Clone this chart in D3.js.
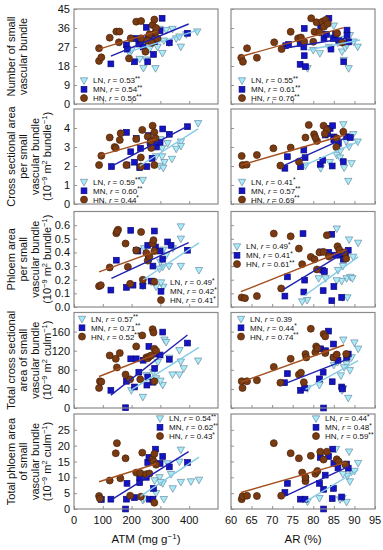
<!DOCTYPE html>
<html>
<head>
<meta charset="utf-8">
<script src="https://cdn.jsdelivr.net/npm/d3@7"></script>
<style>
body { margin:0; background:#fff; }
svg text { font-family: Arial, "Liberation Sans", sans-serif; fill:#111; }
</style>
</head>
<body>
<svg id="chart" width="383" height="550"></svg>
<script>
// series order everywhere: LN, MN, HN
var groups = ["LN", "MN", "HN"];

// ---- row 1 : number of small vascular bundle ----
var numAtmLN = [[193,24],[200,25.5],[228,21.3],[241,17],[250,21],[262,26],[273,28.7],[283,16.9],[290,27],[297,35.5],[307,24.1],[312,30],[320,35],[330,29],[342,35.5],[355,31],[366,31.9],[371,27.1],[390,33],[428,34.3]];
var numAtmMN = [[128,19],[182,28],[185,26],[210,20],[214,31],[225,28.4],[233,30],[240,27],[251,36.3],[256,20],[257,31.5],[263,30],[270,33],[276,23.5],[280,29.6],[299,34.7],[306,40.6],[331,29],[394,33.5]];
var numAtmHN = [[87,26.4],[87,20.4],[95,22.1],[124,31.4],[147,34.3],[158,34.3],[156,29.2],[191,21.6],[197,31.1],[216,39],[233,31.1],[233,39.3],[248,24.8],[255,30],[262,33],[270,29],[273,37.4],[279,40],[283,34],[285,36],[290,31]];
var numArLN = [[85,37.1],[81.6,24],[78.6,16.9],[87,24.8],[87.4,20.8],[88.6,16.9],[87.8,26.7],[88.9,32.6],[89.8,29.5],[90.8,27.1],[87.6,30.8],[86,29],[84.5,31.5],[88.2,28],[83.8,27],[80,25.5]];
var numArMN = [[73.3,27.6],[74,28.2],[76.8,28.7],[77.8,35.8],[77.7,27],[77.8,22.9],[76.8,18.8],[78.1,17.7],[81.8,36.6],[82.6,31.1],[83.2,33],[83.8,40.6],[84.3,26],[84.9,31],[85.4,33],[86.2,30],[88.2,35],[88.2,32.6],[87.4,20],[88.6,29.4]];
var numArHN = [[62.5,21.9],[62.9,20],[63.9,26.4],[66.3,21.9],[70.5,29.2],[72.3,26],[74.5,34.2],[76.3,31.1],[77,31.5],[77.8,29.5],[79.5,40.6],[80.3,34.2],[80.8,38.7],[81.5,34],[82.2,39],[82.6,36.6],[83,39.8],[83.5,38],[85.8,33.5],[87,29.1],[80,29.5]];
var numAtmFit = [[193,24.8,430,35],[128,22.7,398,37.9],[87,26,290,34.5]];
var numArFit = [[78.6,25.6,91.4,30.3],[72.8,26.4,88.8,31.4],[62.3,22.4,87.4,36.2]];
var numAtmR = ["0.53**","0.54**","0.56**"];
var numArR = ["0.55**","0.61**","0.76**"];

// ---- row 2 : cross sectional area per small vascular bundle ----
var csaAtmLN = [[239,1.26],[297,2.0],[306,2.93],[306,2.5],[314,2.2],[340,2.37],[371,3.28],[371,3.05],[431,4.25],[310,1.9],[285,2.5],[262,3.1],[325,3.2],[355,2.9],[300,3.4]];
var csaAtmMN = [[130,1.97],[182,3.77],[184,2.05],[197,2.75],[210,2.2],[216,3.45],[228,1.91],[231,2.93],[253,1.97],[258,3.6],[265,3.2],[271,2.4],[276,3.15],[286,3.0],[299,3.25],[308,3.95],[331,3.67],[394,4.07]];
var csaAtmHN = [[87,2.05],[95,2.54],[124,3.5],[141,3.0],[145,2.95],[159,3.37],[162,3.72],[182,2.05],[216,3.42],[237,3.9],[232,1.97],[232,2.45],[256,3.55],[268,2.95],[268,3.3],[273,4.12],[279,3.78],[279,2.05],[283,3.46]];
var csaArLN = [[87.3,4.19],[88.5,1.21],[78.1,2.02],[81.8,1.88],[85.7,2.58],[86.5,2.44],[87.5,1.91],[89.3,2.14],[88.7,3.02],[89.7,3.67],[90.8,3.28],[86.6,2.8],[88,3.3],[84,2.2]];
var csaArMN = [[73.7,2.49],[73.1,1.88],[76.9,1.96],[77.7,2.84],[78,2.44],[81.7,2.09],[82.3,2.3],[82.9,3.63],[83.5,3.7],[84.1,3.98],[84.7,4.12],[84.6,2.0],[85,3.53],[85.5,3.4],[86.1,3.19],[87.3,2.23],[88.1,3.54],[89,3.5],[85,3.37]];
var csaArHN = [[62.6,2.53],[62.8,2.05],[63.8,2.07],[66.3,2.58],[70.3,2.93],[72,2.02],[74.5,2.97],[76.5,2.23],[78.1,3.5],[78.9,4.16],[80.2,3.67],[80.9,3.32],[82.5,4.12],[83.3,3.9],[82.8,3.7],[85.7,3.46],[87.3,3.8],[85.6,3.0],[80.5,3.5]];
var csaAtmFit = [[228,2.0,431,3.95],[128,1.97,398,4.12],[87,2.55,283,3.4]];
var csaArFit = [[77.7,2.02,90.9,3.28],[72.8,2.02,88.1,3.51],[62.4,2.05,87.7,3.63]];
var csaAtmR = ["0.59**","0.60**","0.44*"];
var csaArR = ["0.41*","0.57**","0.69**"];

// ---- row 3 : phloem area per small vascular bundle ----
var phlAtmLN = [[371,0.59],[371,0.5],[343,0.43],[310,0.42],[308,0.294],[297,0.28],[300,0.33],[285,0.148],[310,0.148],[268,0.185],[239,0.155],[244,0.43],[371,0.3],[434,0.27],[330,0.3],[320,0.38]];
var phlAtmMN = [[128,0.124],[147,0.343],[182,0.144],[197,0.562],[205,0.16],[216,0.416],[222,0.41],[239,0.155],[256,0.452],[258,0.35],[268,0.19],[274,0.3],[279,0.557],[283,0.44],[299,0.41],[308,0.35],[325,0.477],[337,0.452],[394,0.416]];
var phlAtmHN = [[87,0.153],[93,0.16],[124,0.29],[147,0.54],[153,0.567],[150,0.555],[179,0.465],[187,0.294],[195,0.17],[216,0.416],[233,0.55],[239,0.2],[251,0.396],[256,0.34],[262,0.37],[273,0.465],[276,0.49],[279,0.41],[279,0.185]];
var phlArLN = [[85.7,0.574],[88.7,0.494],[90.9,0.47],[89.7,0.367],[87.2,0.3],[86,0.27],[88.1,0.21],[89,0.22],[86.9,0.19],[85.7,0.195],[81.3,0.21],[83,0.21],[78.5,0.05],[77.3,0.04],[87.1,0.07],[88.3,0.07],[89.5,0.21]];
var phlArMN = [[77.5,0.538],[73.7,0.221],[73.1,0.08],[77.9,0.197],[77.7,0.11],[81.8,0.404],[82.3,0.27],[82.4,0.12],[82.7,0.26],[83.7,0.4],[84.5,0.533],[85,0.15],[84.5,0.046],[85.2,0.38],[86.5,0.38],[86.9,0.07],[87.3,0.35],[88.5,0.416],[87.8,0.39]];
var phlArHN = [[62.6,0.07],[63.4,0.065],[66.3,0.08],[70.4,0.538],[74.5,0.518],[72.2,0.136],[76.5,0.428],[77.3,0.314],[79.4,0.367],[80.3,0.35],[80.9,0.275],[81.5,0.4],[82.5,0.404],[83.3,0.526],[83.8,0.37],[85.9,0.445],[86.3,0.42],[88,0.355],[87.5,0.4]];
var phlAtmFit = [[240,0.2,434,0.47],[130,0.21,398,0.472],[87,0.258,285,0.409]];
var phlArFit = [[78.1,0.088,90.9,0.367],[72.8,0.129,88.5,0.416],[62.4,0.112,88.1,0.421]];
var phlAtmR = ["0.49*","0.42*","0.41*"];
var phlArR = ["0.49*","0.41*","0.61**"];

// ---- row 4 : total cross sectional area ----
var tcsAtmLN = [[314,143],[320,138],[366,121],[371,97],[342,70],[308,48],[285,62],[239,23],[199,37],[251,69],[291,96],[331,105],[381,83],[431,99],[366,70],[275,75],[300,57]];
var tcsAtmMN = [[128,37],[179,0.6],[182,56],[197,103],[210,44],[216,103],[225,75],[240,100],[253,48],[256,65],[260,129],[274,54],[280,83],[285,113],[299,111],[308,159],[331,102],[394,136]];
var tcsAtmHN = [[87,42],[90,56],[95,55],[124,110],[145,103],[149,85],[159,115],[179,70],[195,60],[216,129],[237,152],[230,60],[251,106],[256,104],[262,108],[268,110],[273,165],[276,158],[279,124],[285,120],[279,56]];
var tcsArLN = [[87.3,143],[90,137],[90.9,124],[88.9,79],[88.1,92],[86.7,68],[87.3,41],[87,37],[88.5,21],[81.5,48],[78.6,41],[85,90],[85.9,96],[87.5,85],[89.3,106]];
var tcsArMN = [[73,53],[73.7,72],[76.9,37],[77.9,42],[81.5,61],[81.8,124],[82.4,75],[82.5,0],[83.7,161],[84.6,55],[84.9,134],[85,106],[86.9,44],[87.1,40],[88.1,106],[88.5,113],[83,120],[86,100]];
var tcsArHN = [[62.6,56],[62.8,42],[63.9,56],[66.3,58],[70.4,86],[72,53],[74.5,103],[76.5,70],[77,74],[78.1,113],[78.3,106],[79.4,166],[80.5,117],[80.7,129],[82.5,155],[82.9,150],[82.9,115],[84.9,106],[85.7,112],[88,113],[77.7,54],[81,125]];
var tcsAtmFit = [[199,38,434,127],[128,27,394,153],[87,66,285,113]];
var tcsArFit = [[78.1,39,90.9,99],[73.1,51,88.5,103],[62.4,54,87.5,132]];
var tcsAtmR = ["0.57**","0.71**","0.52**"];
var tcsArR = ["0.39","0.44*","0.74**"];

// ---- row 5 : total phloem area ----
var tpaAtmLN = [[239,2.8],[244,3.3],[308,8.1],[312,3.1],[297,10],[325,14.4],[337,11],[371,18.7],[371,8.5],[366,14.9],[406,8.7],[434,9.2],[285,5],[343,6.5],[300,8.5],[280,9]];
var tpaAtmMN = [[95,3],[128,3.1],[179,0],[184,8.1],[182,3.1],[210,3.6],[228,8.3],[228,10],[251,10],[256,14.7],[260,16.3],[262,3.1],[274,3.1],[276,6.5],[283,18.9],[299,14.4],[308,16.6],[331,13.3],[394,14.7]];
var tpaAtmHN = [[87,4.1],[90,3.3],[124,9],[145,17.6],[149,20.8],[161,9.7],[179,16],[195,4.2],[216,11.5],[230,11.4],[237,17.8],[232,3.9],[251,11],[262,11.2],[273,15.7],[276,15],[279,17.4],[285,14],[279,2]];
var tpaArLN = [[85.5,18.9],[88.7,18.1],[90.9,14.5],[88.9,8.7],[89.3,11.8],[88.3,10.5],[86.5,3],[87.1,3.5],[88.1,2.2],[81.5,3.4],[78.6,2.3],[87.2,11],[90,12]];
var tpaArMN = [[73.7,8.1],[73.1,5.2],[76.9,3.1],[78,3.1],[78.1,9.7],[81.5,8.1],[81.7,16.3],[82.5,6.2],[82.5,0],[82.9,10.7],[83.7,16.6],[84.7,18.9],[84.9,6.5],[85,14.4],[84.6,3.3],[86.9,3.8],[88.1,14.2],[88.5,12.9],[86,13]];
var tpaArHN = [[62.6,3.1],[62.8,4],[63.9,4.2],[66.3,4.1],[70.4,20.8],[72.2,4.2],[74.5,17.6],[76.5,16],[77.3,11.5],[78.1,8.8],[79.4,16.8],[80.5,11.1],[81,12],[81.7,18.1],[82.5,15.6],[83.3,18.1],[85.7,15.7],[86.2,15],[87.8,14],[78.1,10]];
var tpaAtmFit = [[230,4.0,434,16.4],[128,2.8,398,18.1],[87,8.6,285,14.3]];
var tpaArFit = [[78.1,2.3,90.9,12.3],[73.1,4.1,88.5,13.4],[62.4,5.2,88,14.7]];
var tpaAtmR = ["0.54**","0.62**","0.43*"];
var tpaArR = ["0.44*","0.48*","0.59**"];

// axes
var atmTicks = [0,100,200,300,400];
var arTicks = [60,65,70,75,80,85,90,95];
var rowDomains = [[0,45],[0,5],[0,0.7],[0,200],[0,30]];
var rowTicks = [[0,9,18,27,36,45],[0,1,2,3,4],[0,0.1,0.2,0.3,0.4,0.5,0.6],[0,40,80,120,160],[0,5,10,15,20,25]];
var rowTitles = [
  ["Number of small","vascular bundle"],
  ["Cross sectional area","per small","vascular bundle","bundle"],
  ["Phloem area","per small","vascular bundle","bundle"],
  ["Total cross sectional","area of small","vascular bundle","culm"],
  ["Total phloem area","of small","vascular bundle","culm"]
];

var svg = d3.select("#chart");
var colX = [[74,218],[231,375]];
var rowY = [[9,104],[109,204],[211.5,307],[312.5,408],[414,509]];

var xAtm = d3.scaleLinear().domain([0,500]).range(colX[0]);
var xAr = d3.scaleLinear().domain([60,95]).range(colX[1]);

var fills = ["#a8ecf8","#1414c4","#7a3b12"];
var strokes = ["#6d8aa4","#0b0b7a","#4a2208"];
var lineCols = ["#86cbe6","#2020b0","#a4501f"];

// legend: corner offsets (marker x, first row y) relative to panel top-left
var legendPos = [
  [[10,71.5],[11,71.5]],
  [[10,73],[11,73]],
  [[87,71],[6,35]],
  [[8,6.5],[10,6.5]],
  [[86,4.5],[85,4.5]]
];

var panels = [
  [[numAtmLN,numAtmMN,numAtmHN],numAtmFit,numAtmR,[numArLN,numArMN,numArHN],numArFit,numArR],
  [[csaAtmLN,csaAtmMN,csaAtmHN],csaAtmFit,csaAtmR,[csaArLN,csaArMN,csaArHN],csaArFit,csaArR],
  [[phlAtmLN,phlAtmMN,phlAtmHN],phlAtmFit,phlAtmR,[phlArLN,phlArMN,phlArHN],phlArFit,phlArR],
  [[tcsAtmLN,tcsAtmMN,tcsAtmHN],tcsAtmFit,tcsAtmR,[tcsArLN,tcsArMN,tcsArHN],tcsArFit,tcsArR],
  [[tpaAtmLN,tpaAtmMN,tpaAtmHN],tpaAtmFit,tpaAtmR,[tpaArLN,tpaArMN,tpaArHN],tpaArFit,tpaArR]
];

function marker(sel, k) {
  if (k == 0) {
    sel.append("path").attr("d","M-3.7,-2.7L3.7,-2.7L0,3.9Z");
  } else if (k == 1) {
    sel.append("rect").attr("x",-2.9).attr("y",-2.9).attr("width",5.8).attr("height",5.8);
  } else {
    sel.append("circle").attr("r",3.5);
  }
  sel.attr("fill",fills[k]).attr("stroke",strokes[k]).attr("stroke-width",0.7);
}

function drawPanel(row, col, pts, fits, rs) {
  var x = col == 0 ? xAtm : xAr;
  var y = d3.scaleLinear().domain(rowDomains[row]).range([rowY[row][1], rowY[row][0]]);
  var g = svg.append("g");
  var x0 = colX[col][0], x1 = colX[col][1], y0 = rowY[row][0], y1 = rowY[row][1];

  // inward ticks
  var yAxis = d3.axisRight(y).tickValues(rowTicks[row]).tickSize(3).tickFormat("");
  var ya = g.append("g").attr("transform","translate("+x0+",0)").call(yAxis);
  var xAxis = d3.axisTop(x).tickValues(col == 0 ? atmTicks : arTicks).tickSize(3).tickFormat("");
  var xa = g.append("g").attr("transform","translate(0,"+y1+")").call(xAxis);
  [ya, xa].forEach(function(a){
    a.select(".domain").remove();
    a.selectAll("line").attr("stroke","#777").attr("stroke-width",0.8);
  });

  if (col == 0) {
    var fmt = row == 2 ? d3.format(".1f") : d3.format("d");
    g.selectAll(".ylab").data(rowTicks[row]).enter().append("text")
      .attr("x", x0 - 4).attr("y", function(d){ return y(d) + 4; })
      .attr("text-anchor","end").attr("font-size",11).text(fmt);
  }
  if (row == 4) {
    g.selectAll(".xlab").data(col == 0 ? atmTicks : arTicks).enter().append("text")
      .attr("x", function(d){ return x(d); }).attr("y", y1 + 15)
      .attr("text-anchor","middle").attr("font-size",11).text(function(d){ return d; });
  }

  // points
  pts.forEach(function(list, k){
    list.forEach(function(p){
      var m = g.append("g").attr("transform","translate("+x(p[0])+","+y(p[1])+")");
      marker(m, k);
    });
  });

  // fitted lines
  fits.forEach(function(f, k){
    g.append("line")
      .attr("x1", x(f[0])).attr("y1", y(f[1]))
      .attr("x2", x(f[2])).attr("y2", y(f[3]))
      .attr("stroke", lineCols[k]).attr("stroke-width", 1.4);
  });

  // legend
  var lp = legendPos[row][col];
  groups.forEach(function(name, k){
    var ly = y0 + lp[1] + k * 8.8;
    var m = g.append("g").attr("transform","translate("+(x0+lp[0])+","+ly+")");
    marker(m, k);
    var t = g.append("text").attr("x", x0 + lp[0] + 9).attr("y", ly + 2.9).attr("font-size",8);
    t.append("tspan").text(name + ", ");
    t.append("tspan").attr("font-style","italic").text("r");
    var val = rs[k].replace(/\*/g,"");
    var stars = rs[k].slice(val.length);
    t.append("tspan").text(" = " + val);
    if (stars) t.append("tspan").attr("font-size",6.5).attr("dy",-2.5).text(stars);
  });

  // frame
  g.append("rect").attr("x",x0).attr("y",y0).attr("width",x1-x0).attr("height",y1-y0)
    .attr("fill","none").attr("stroke","#8a8a8a").attr("stroke-width",1.2);
}

panels.forEach(function(p, row){
  drawPanel(row, 0, p[0], p[1], p[2]);
  drawPanel(row, 1, p[3], p[4], p[5]);
});

// y titles
var titleX = [11.5, 23.5, 35.5, 47];
rowTitles.forEach(function(lines, row){
  var cy = (rowY[row][0] + rowY[row][1]) / 2;
  var tg = svg.append("g").attr("transform","translate(0,"+cy+") rotate(-90)");
  lines.forEach(function(s, i){
    var t = tg.append("text").attr("x",0).attr("y", titleX[i] + 3.8)
      .attr("text-anchor","middle").attr("font-size",11);
    if (i < 3) { t.text(s); return; }
    t.append("tspan").text("(10");
    t.append("tspan").attr("font-size",7.5).attr("dy",-4).text("\u22129");
    t.append("tspan").attr("dy",4).text(" m");
    t.append("tspan").attr("font-size",7.5).attr("dy",-4).text("2");
    t.append("tspan").attr("dy",4).text(" " + s);
    t.append("tspan").attr("font-size",7.5).attr("dy",-4).text("\u22121");
    t.append("tspan").attr("dy",4).text(")");
  });
});

// x titles
var xt = svg.append("text").attr("x", (colX[0][0]+colX[0][1])/2).attr("y",543)
  .attr("text-anchor","middle").attr("font-size",11.5);
xt.append("tspan").text("ATM (mg g");
xt.append("tspan").attr("font-size",8).attr("dy",-4).text("\u22121");
xt.append("tspan").attr("dy",4).text(")");
svg.append("text").attr("x", (colX[1][0]+colX[1][1])/2).attr("y",543)
  .attr("text-anchor","middle").attr("font-size",11.5).text("AR (%)");
</script>
</body>
</html>
